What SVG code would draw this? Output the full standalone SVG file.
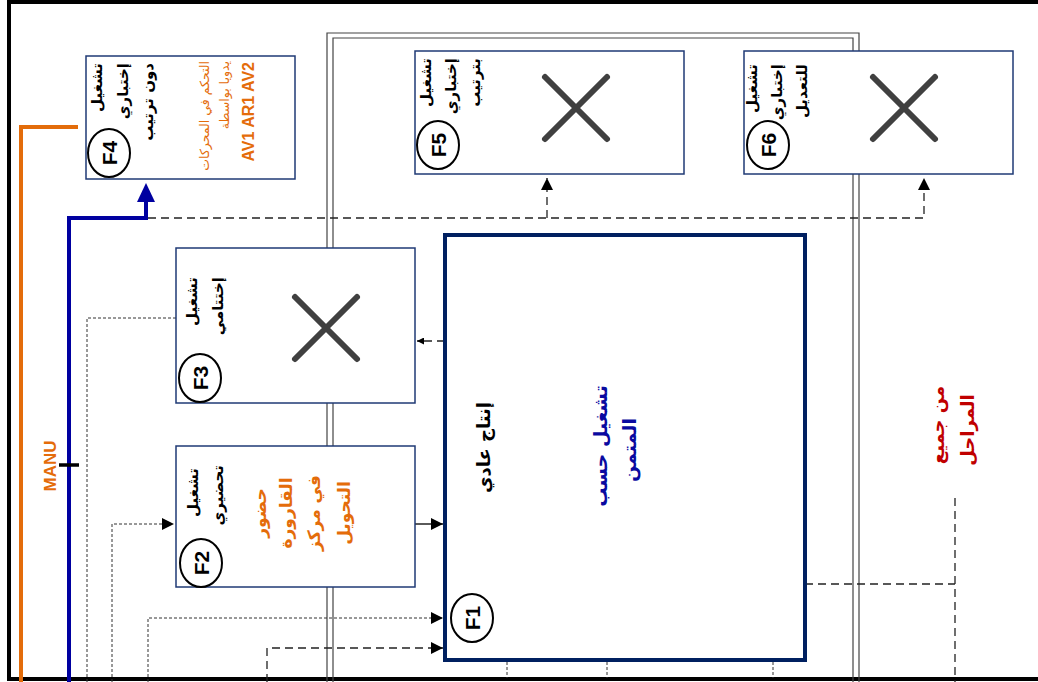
<svg xmlns="http://www.w3.org/2000/svg" width="1038" height="682" viewBox="0 0 1038 682">
<style>
.box{fill:#fff;stroke:#1F3A75;stroke-width:1.5}
.f1{fill:#fff;stroke:#002060;stroke-width:4}
.dbl{fill:none;stroke:#444;stroke-width:1.2}
.circ{fill:#fff;stroke:#000;stroke-width:2}
.lbl{font-family:"Liberation Sans",Arial,sans-serif;font-weight:bold;font-size:21px;fill:#000}
.ar{font-family:"DejaVu Sans",sans-serif;font-weight:bold;font-size:15px;fill:#000}
.or{font-family:"DejaVu Sans",sans-serif;font-size:12.5px;fill:#E46C0A}
.orb{font-family:"DejaVu Sans",sans-serif;font-weight:bold;font-size:17px;fill:#E46C0A}
.blue{font-family:"DejaVu Sans",sans-serif;font-weight:bold;font-size:19px;fill:#0A0AA0}
.red{font-family:"DejaVu Sans",sans-serif;font-weight:bold;font-size:18px;fill:#C00000}
.x{stroke:#404040;stroke-width:6;stroke-linecap:round}
.d1{fill:none;stroke:#333;stroke-width:1;stroke-dasharray:3 2}
.d2{fill:none;stroke:#222;stroke-width:1.3;stroke-dasharray:8 5}
</style>
<defs>
<marker id="ah" viewBox="0 0 10 10" refX="10" refY="5" markerWidth="7" markerHeight="7" markerUnits="userSpaceOnUse" orient="auto"><path d="M0,0 L10,5 L0,10 z" fill="#000"/></marker>
<marker id="ahb" viewBox="0 0 10 10" refX="10" refY="5" markerWidth="12" markerHeight="12" markerUnits="userSpaceOnUse" orient="auto"><path d="M0,0 L10,5 L0,10 z" fill="#000"/></marker>
</defs>
<rect width="1038" height="682" fill="#fff"/>
<g id="frame">
<path d="M1040,2 H9 V679 H1040" fill="none" stroke="#000" stroke-width="4"/>
<path d="M327,690 V33 H859 V690" class="dbl"/>
<path d="M333,690 V38 H853 V690" class="dbl"/>
</g>
<g id="connectors">
<path d="M21,682 V127 H78" fill="none" stroke="#E36C0A" stroke-width="4"/>
<path d="M69,682 V218 H146 V200" fill="none" stroke="#0000A0" stroke-width="4"/>
<polygon points="137,202 155,202 146,183" fill="#0000A0"/>
<line x1="59" y1="465" x2="79" y2="465" stroke="#000" stroke-width="3.5"/>
<path d="M148,218 H924 V178" class="d2" marker-end="url(#ahb)"/>
<path d="M547,218 V178" class="d2" marker-end="url(#ahb)"/>
<path d="M445,341 H417" class="d2" marker-end="url(#ah)"/>
<path d="M415,524 H443" fill="none" stroke="#000" stroke-width="1.3" marker-end="url(#ahb)"/>
<path d="M176,318 H87 V682" class="d1"/>
<path d="M112,682 V524 H174" class="d1" marker-end="url(#ahb)"/>
<path d="M148,682 V618 H443" class="d1" marker-end="url(#ahb)"/>
<path d="M267,682 V648 H443" class="d2" marker-end="url(#ahb)"/>
<path d="M805,584 H955" class="d2"/>
<path d="M955,498 V682" class="d2"/>
<path d="M507,662 V678 M607,662 V678 M773,662 V678" class="d1"/>
</g>
<text transform="translate(56,466) rotate(-90)" text-anchor="middle" font-family="Liberation Sans, Arial, sans-serif" font-weight="bold" font-size="17" fill="#E46C0A">MANU</text>
<g id="F4">
<rect x="86" y="56" width="209" height="123" class="box"/>
<ellipse cx="109" cy="153" rx="21" ry="24" class="circ"/>
<text transform="translate(117,153) rotate(-90)" text-anchor="middle" class="lbl">F4</text>
<text transform="translate(102,63) rotate(-90)" text-anchor="end" class="ar">تشغيل</text>
<text transform="translate(128,63) rotate(-90)" text-anchor="end" class="ar">إختباري</text>
<text transform="translate(153,63) rotate(-90)" text-anchor="end" class="ar">دون ترتيب</text>
<text transform="translate(209,61) rotate(-90)" text-anchor="end" class="or">التحكم في المحركات</text>
<text transform="translate(229,61) rotate(-90)" text-anchor="end" class="or">يدويا بواسطة</text>
<text transform="translate(254,62) rotate(-90)" text-anchor="end" font-family="Liberation Sans, Arial, sans-serif" font-weight="bold" font-size="16" fill="#E46C0A">AV1 AR1 AV2</text>
</g>
<g id="F5">
<rect x="415" y="51" width="269" height="123" class="box"/>
<ellipse cx="438" cy="145" rx="21" ry="24" class="circ"/>
<text transform="translate(446,145) rotate(-90)" text-anchor="middle" class="lbl">F5</text>
<text transform="translate(431,58) rotate(-90)" text-anchor="end" class="ar">تشغيل</text>
<text transform="translate(456,58) rotate(-90)" text-anchor="end" class="ar">إختباري</text>
<text transform="translate(480,58) rotate(-90)" text-anchor="end" class="ar">بترتيب</text>
<path d="M545,77 L607,139 M607,77 L545,139" class="x"/>
</g>
<g id="F6">
<rect x="744" y="51" width="269" height="123" class="box"/>
<ellipse cx="768" cy="145" rx="21" ry="24" class="circ"/>
<text transform="translate(776,145) rotate(-90)" text-anchor="middle" class="lbl">F6</text>
<text transform="translate(757,64) rotate(-90)" text-anchor="end" class="ar">تشغيل</text>
<text transform="translate(782,64) rotate(-90)" text-anchor="end" class="ar">إختباري</text>
<text transform="translate(807,64) rotate(-90)" text-anchor="end" class="ar">للتعديل</text>
<path d="M873,77 L935,139 M935,77 L873,139" class="x"/>
</g>
<g id="F3">
<rect x="176" y="248" width="239" height="155" class="box"/>
<ellipse cx="200" cy="378" rx="21" ry="24" class="circ"/>
<text transform="translate(208,378) rotate(-90)" text-anchor="middle" class="lbl">F3</text>
<text transform="translate(197,277) rotate(-90)" text-anchor="end" class="ar">تشغيل</text>
<text transform="translate(223,277) rotate(-90)" text-anchor="end" class="ar">إختتامي</text>
<path d="M295,297 L357,359 M357,297 L295,359" class="x"/>
</g>
<g id="F2">
<rect x="176" y="446" width="239" height="141" class="box"/>
<ellipse cx="201" cy="563" rx="21" ry="24" class="circ"/>
<text transform="translate(209,563) rotate(-90)" text-anchor="middle" class="lbl">F2</text>
<text transform="translate(198,468) rotate(-90)" text-anchor="end" class="ar">تشغيل</text>
<text transform="translate(223,465) rotate(-90)" text-anchor="end" class="ar">تحضيري</text>
<text transform="translate(266,513) rotate(-90)" text-anchor="middle" class="orb">حضور</text>
<text transform="translate(292,513) rotate(-90)" text-anchor="middle" class="orb">القارورة</text>
<text transform="translate(320,513) rotate(-90)" text-anchor="middle" class="orb">في مركز</text>
<text transform="translate(350,513) rotate(-90)" text-anchor="middle" class="orb">التحويل</text>
</g>
<g id="F1">
<rect x="445" y="235" width="360" height="425" class="f1"/>
<ellipse cx="472" cy="618" rx="21" ry="24" class="circ"/>
<text transform="translate(480,618) rotate(-90)" text-anchor="middle" class="lbl">F1</text>
<text transform="translate(490,402) rotate(-90)" text-anchor="end" font-family="DejaVu Sans, sans-serif" font-weight="bold" font-size="18" fill="#000">إنتاج عادي</text>
<text transform="translate(607,446) rotate(-90)" text-anchor="middle" class="blue">تشغيل حسب</text>
<text transform="translate(636,450) rotate(-90)" text-anchor="middle" class="blue">المتمن</text>
</g>
<g id="note">
<text transform="translate(944,425) rotate(-90)" text-anchor="middle" class="red">من جميع</text>
<text transform="translate(974,430) rotate(-90)" text-anchor="middle" class="red">المراحل</text>
</g>
</svg>
